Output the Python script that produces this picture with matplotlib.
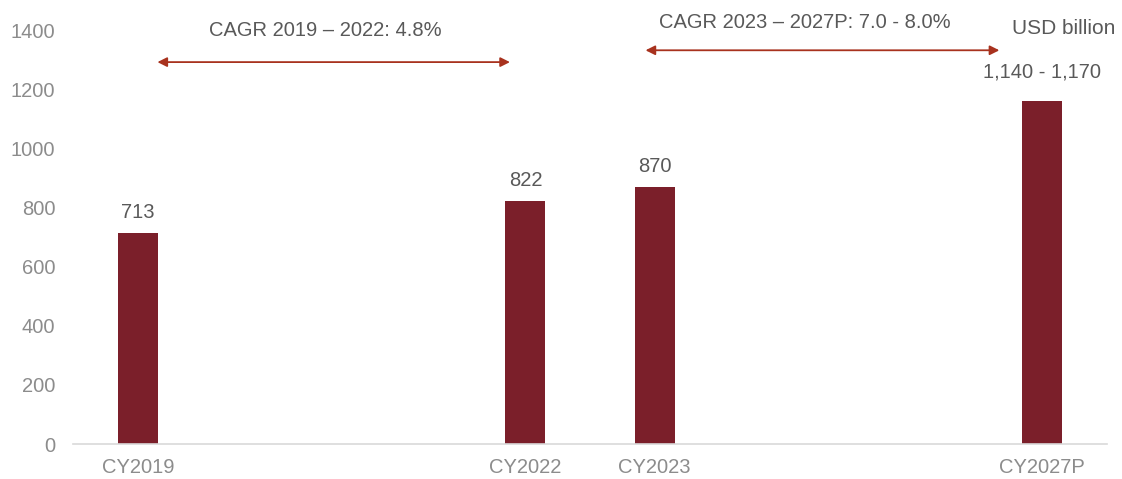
import matplotlib.pyplot as plt

plt.rcParams['font.family'] = ['Liberation Sans', 'DejaVu Sans']

# data
categories = ['CY2019', 'CY2022', 'CY2023', 'CY2027P']
slots = [0, 3, 4, 7]
values = [713, 822, 870, 1160]
value_labels = ['713', '822', '870', '1,140 - 1,170']
cagr_texts = ['CAGR 2019 \u2013 2022: 4.8%', 'CAGR 2023 \u2013 2027P: 7.0 - 8.0%']

bar_color = '#7b1f2a'
arrow_color = '#a8321e'
text_color = '#595959'
tick_color = '#8c8c8c'
fs = 14.5

fig = plt.figure(figsize=(11.22, 4.79), dpi=100)
ax = fig.add_axes([0.0655, 0.073, 0.9207, 0.864])

ax.bar(slots, values, width=0.31, color=bar_color, zorder=2)

for s, v, lab in zip(slots, values, value_labels):
    off = 100 if v > 1000 else 70
    ax.text(s, v + off, lab, ha='center', va='center', fontsize=fs, color=text_color)

ax.set_xlim(-0.5, 7.5)
ax.set_ylim(0, 1400)
ax.set_yticks(range(0, 1401, 200))
ax.set_xticks(slots)
ax.set_xticklabels(categories)
ax.tick_params(axis='both', length=0, labelsize=fs, colors=tick_color)
ax.tick_params(axis='x', pad=10)
ax.tick_params(axis='y', pad=13)

for side in ['top', 'right', 'left']:
    ax.spines[side].set_visible(False)
ax.spines['bottom'].set_color('#d9d9d9')
ax.spines['bottom'].set_linewidth(1.2)

# CAGR arrows
ax.annotate('', xy=(0.15, 1292), xytext=(2.88, 1292),
            arrowprops=dict(arrowstyle='<|-|>', color=arrow_color, lw=1.3,
                            mutation_scale=14, shrinkA=0, shrinkB=0),
            annotation_clip=False)
ax.text(1.45, 1398, cagr_texts[0], ha='center', va='center', fontsize=fs,
        color=text_color, clip_on=False)

ax.annotate('', xy=(3.93, 1332), xytext=(6.67, 1332),
            arrowprops=dict(arrowstyle='<|-|>', color=arrow_color, lw=1.3,
                            mutation_scale=14, shrinkA=0, shrinkB=0),
            annotation_clip=False)
ax.text(5.16, 1425, cagr_texts[1], ha='center', va='center', fontsize=fs,
        color=text_color, clip_on=False)

fig.text(0.994, 0.94, 'USD billion', ha='right', va='center', fontsize=fs + 0.5,
         color=text_color)

fig.savefig('out.png', dpi=100)
